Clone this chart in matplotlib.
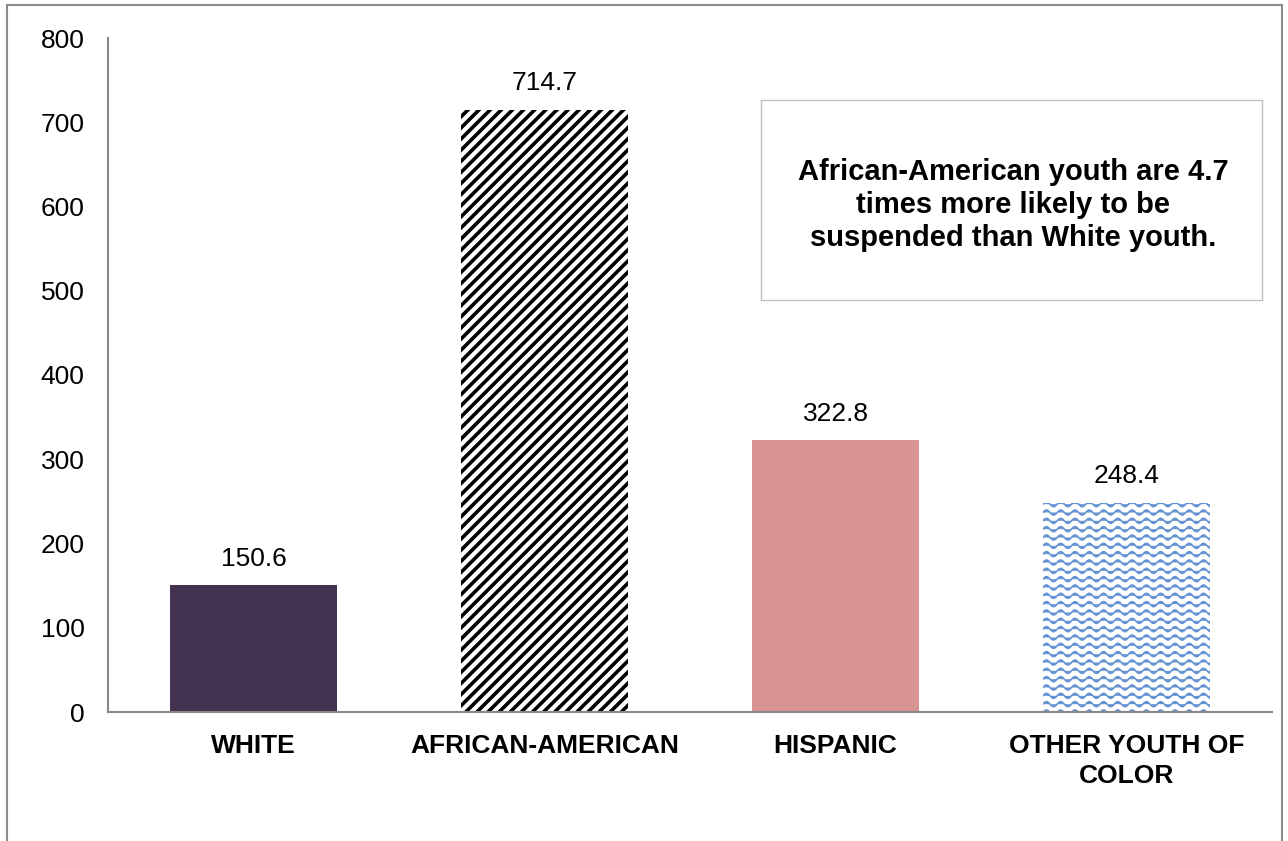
import warnings
import numpy as np
import matplotlib
matplotlib.use("Agg")
import matplotlib.pyplot as plt
from matplotlib import hatch as mhatch
from matplotlib.path import Path
from matplotlib.patches import Rectangle

warnings.filterwarnings("ignore")

categories = ["WHITE", "AFRICAN-AMERICAN", "HISPANIC", "OTHER YOUTH OF\nCOLOR"]
rates = [150.6, 714.7, 322.8, 248.4]
y_ticks = [0, 100, 200, 300, 400, 500, 600, 700, 800]
note = "African-American youth are 4.7\ntimes more likely to be\nsuspended than White youth."


class DenseDiagonalHatch(mhatch.NorthEastHatch):
    """Tight 45-degree stripes (pattern char 'd')."""

    def __init__(self, hatch, density):
        self.num_lines = hatch.count('d') * 18
        self.num_vertices = (self.num_lines + 1) * 2 if self.num_lines else 0


class WaveHatch(mhatch.HatchPatternBase):
    """Rows of small sine waves (pattern char '~')."""

    def __init__(self, hatch, density):
        self.num_rows = hatch.count('~') * 12
        self.periods = 7
        self.pts = self.periods * 16 + 1
        self.num_vertices = self.num_rows * self.pts

    def set_vertices_and_codes(self, vertices, codes):
        t = np.linspace(0.0, 1.0, self.pts)
        amp = 0.025
        for i in range(self.num_rows):
            y0 = (i + 0.5) / self.num_rows
            sl = slice(i * self.pts, (i + 1) * self.pts)
            vertices[sl, 0] = t
            vertices[sl, 1] = y0 + amp * np.sin(2 * np.pi * self.periods * t)
            codes[sl] = Path.LINETO
            codes[i * self.pts] = Path.MOVETO


mhatch._hatch_types.extend([DenseDiagonalHatch, WaveHatch])

plt.rcParams['font.family'] = ['Liberation Sans', 'DejaVu Sans']

W, H = 1288, 841
fig = plt.figure(figsize=(W / 100, H / 100), dpi=100)
ax = fig.add_axes([108 / W, 1 - 712 / H, (1272 - 108) / W, (712 - 38) / H])

x = np.arange(len(categories))
styles = [
    dict(facecolor="#433350", edgecolor="#433350", hatch=None, hlw=None),
    dict(facecolor="white", edgecolor="black", hatch="d", hlw=2.6),
    dict(facecolor="#d99594", edgecolor="#d99594", hatch=None, hlw=None),
    dict(facecolor="white", edgecolor="#6693d4", hatch="~", hlw=1.2),
]
bars = ax.bar(x, rates, width=0.574, linewidth=0)
for bar, st in zip(bars, styles):
    bar.set_facecolor(st["facecolor"])
    bar.set_edgecolor(st["edgecolor"])
    bar.set_linewidth(0)
    if st["hatch"]:
        bar.set_hatch(st["hatch"])
        if hasattr(bar, "set_hatch_linewidth"):
            bar.set_hatch_linewidth(st["hlw"])

for xi, v in zip(x, rates):
    ax.annotate(f"{v:.1f}", (xi, v), xytext=(0, 19), textcoords="offset points",
                ha="center", va="center", fontsize=19)

ax.set_xlim(-0.5, len(categories) - 0.5)
ax.set_ylim(0, 800)
ax.set_yticks(y_ticks)
ax.set_yticklabels([str(t) for t in y_ticks])
ax.set_xticks(x)
ax.set_xticklabels(categories, fontweight="bold", fontsize=19, linespacing=1.32)
ax.tick_params(axis="y", length=0, pad=17, labelsize=19)
ax.tick_params(axis="x", length=0, pad=16)

for side in ("top", "right"):
    ax.spines[side].set_visible(False)
for side in ("left", "bottom"):
    ax.spines[side].set_color("#888888")
    ax.spines[side].set_linewidth(1.5)

# callout box
fig.patches.append(Rectangle((761 / W, 1 - 300 / H), 501 / W, 200 / H,
                             transform=fig.transFigure, facecolor="white",
                             edgecolor="#bfbfbf", linewidth=1.0))
fig.text(1013 / W, 1 - 205 / H, note, ha="center", va="center",
         fontsize=21, fontweight="bold", linespacing=1.24)

# outer chart border
fig.patches.append(Rectangle((7 / W, -0.05), (1282 - 7) / W, 1.05 - 5 / H,
                             transform=fig.transFigure, fill=False,
                             edgecolor="#8c8c8c", linewidth=1.5))

fig.savefig("out.png", dpi=100)
